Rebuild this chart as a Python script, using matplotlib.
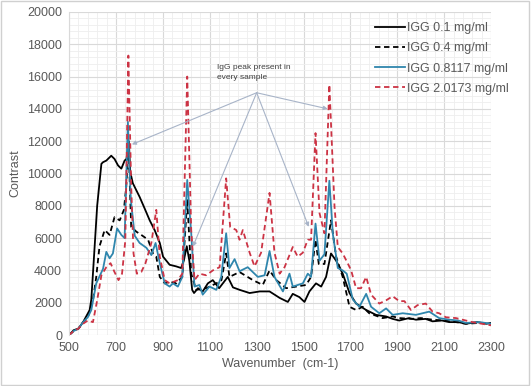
import matplotlib.pyplot as plt
from matplotlib.ticker import MultipleLocator

plt.rcParams['font.family'] = ['Liberation Sans', 'DejaVu Sans']

# IGG 0.1 mg/ml
x_01 = [500, 520, 540, 560, 588, 595, 605, 620, 638, 645, 659, 680, 694, 709, 723, 737, 745, 755, 761,
        772, 801, 822, 844, 865, 887, 901, 929, 957, 978, 990, 1002, 1013, 1025, 1033, 1050, 1070, 1092,
        1113, 1140, 1177, 1199, 1227, 1270, 1313, 1355, 1398, 1433, 1454, 1482, 1504, 1525, 1553, 1575,
        1596, 1617, 1639, 1667, 1696, 1724, 1767, 1809, 1852, 1880, 1908, 1950, 1979, 2020, 2050, 2090,
        2121, 2160, 2192, 2240, 2280, 2300]
y_01 = [0, 300, 400, 800, 1550, 2200, 4500, 8000, 10600, 10700, 10800, 11100, 10900, 10500, 10300, 10800,
        10900, 12000, 10100, 9400, 8550, 7850, 7100, 6500, 5700, 4850, 4350, 4250, 4150, 4650, 5500, 4600,
        2800, 2600, 2900, 2700, 3200, 3400, 2900, 3600, 2950, 2800, 2600, 2700, 2700, 2300, 2050, 2550,
        2350, 2050, 2700, 3200, 3000, 3600, 5050, 4600, 3800, 2600, 1950, 1550, 1250, 1150, 1000, 900,
        1050, 950, 1000, 850, 900, 800, 800, 700, 800, 700, 750]

# IGG 0.4 mg/ml
x_04 = [500, 520, 540, 560, 580, 602, 616, 630, 652, 673, 694, 716, 734, 744, 754, 765, 787, 808, 837, 858,
        872, 887, 908, 929, 957, 983, 1004, 1021, 1042, 1085, 1128, 1150, 1170, 1184, 1227, 1284, 1326,
        1355, 1384, 1426, 1468, 1511, 1532, 1551, 1565, 1589, 1617, 1639, 1667, 1696, 1724, 1752, 1780,
        1837, 1880, 1908, 1960, 2000, 2050, 2100, 2150, 2192, 2250, 2300]
y_04 = [0, 250, 400, 800, 1100, 2150, 3600, 5500, 6500, 6200, 7300, 7100, 7750, 9200, 11700, 6700, 6400,
        6200, 5900, 5050, 4850, 3600, 3200, 3300, 3200, 3600, 8350, 3800, 2800, 2900, 3200, 3400, 5050,
        3600, 3900, 3400, 3100, 4000, 3400, 2900, 3000, 3100, 3600, 5900, 4400, 4400, 7100, 4850, 3600,
        1750, 1550, 1750, 1350, 1050, 1150, 1050, 1000, 1050, 950, 900, 800, 700, 750, 700]

# IGG 0.8117 mg/ml
x_08 = [500, 520, 540, 560, 580, 595, 616, 645, 659, 673, 687, 705, 723, 737, 751, 763, 780, 801, 830, 851,
        869, 887, 908, 929, 943, 964, 983, 1004, 1021, 1035, 1056, 1070, 1099, 1128, 1149, 1170, 1184,
        1206, 1227, 1262, 1305, 1334, 1355, 1376, 1412, 1440, 1454, 1497, 1518, 1532, 1551, 1568, 1589,
        1610, 1625, 1646, 1667, 1684, 1710, 1738, 1767, 1788, 1823, 1852, 1880, 1923, 1979, 2036, 2078,
        2121, 2160, 2192, 2250, 2300]
y_08 = [0, 250, 400, 800, 1100, 1550, 3200, 4100, 5150, 4750, 5050, 6600, 6200, 6000, 13200, 8450, 6150,
        5700, 5400, 4950, 5700, 4450, 3200, 3000, 3200, 3000, 3600, 9600, 6300, 3000, 3100, 2500, 3000,
        2800, 3600, 6300, 4150, 4700, 3950, 4200, 3600, 3700, 5200, 3600, 2700, 3800, 3000, 3200, 3800,
        3600, 6900, 4600, 5000, 9550, 6250, 4150, 4000, 3800, 2200, 1750, 2550, 1750, 1350, 1650, 1250,
        1350, 1250, 1450, 1050, 950, 900, 750, 800, 700]

# IGG 2.0173 mg/ml
x_20 = [500, 520, 540, 560, 580, 602, 620, 638, 659, 677, 694, 711, 726, 740, 753, 765, 775, 789, 808, 826,
        851, 872, 887, 908, 929, 964, 983, 1004, 1021, 1035, 1056, 1085, 1113, 1142, 1170, 1187, 1213,
        1227, 1241, 1270, 1291, 1319, 1355, 1376, 1398, 1419, 1454, 1475, 1497, 1518, 1532, 1551, 1568,
        1589, 1610, 1632, 1646, 1667, 1688, 1703, 1724, 1745, 1767, 1788, 1823, 1852, 1880, 1908, 1930,
        1958, 1986, 2021, 2050, 2078, 2107, 2150, 2220, 2300]
y_20 = [0, 250, 400, 700, 900, 800, 2150, 3700, 4200, 4450, 3900, 3400, 3800, 5850, 17300, 9250, 5050,
        3800, 3900, 4450, 5700, 7750, 4850, 3400, 3200, 3400, 3800, 16000, 6500, 3400, 3800, 3700, 4000,
        4200, 9700, 6700, 6500, 5900, 6500, 5100, 4250, 5100, 8800, 5100, 3800, 4200, 5450, 4850, 5100,
        5900, 5900, 12500, 7550, 6300, 15500, 7950, 5450, 5050, 4450, 4000, 2900, 2900, 3600, 2500, 1950,
        2150, 2400, 2100, 2100, 1550, 1850, 1950, 1450, 1350, 1100, 1050, 800, 600]

labels = ["IGG 0.1 mg/ml", "IGG 0.4 mg/ml", "IGG 0.8117 mg/ml", "IGG 2.0173 mg/ml"]
x_ticks = list(range(500, 2301, 200))
note_text = "IgG peak present in\nevery sample"
note_src = (1300, 15000)
note_tips = [(768, 11800), (1028, 5470), (1522, 6700), (1603, 14000)]

grey = "#595959"

fig = plt.figure(figsize=(5.31, 3.86), dpi=100)
fig.patches.append(plt.Rectangle((0.002, 0.003), 0.995, 0.994, transform=fig.transFigure,
                                 fill=False, edgecolor="#d0d0d0", linewidth=1))
ax = fig.add_axes([0.13, 0.132, 0.795, 0.837])

ax.plot(x_01, y_01, color="black", lw=1.3, label=labels[0])
ax.plot(x_04, y_04, color="black", lw=1.3, ls=(0, (3, 2)), label=labels[1])
ax.plot(x_08, y_08, color="#2f86ad", lw=1.3, label=labels[2])
ax.plot(x_20, y_20, color="#cc3344", lw=1.3, ls=(0, (3, 2)), label=labels[3])

ax.set_xlim(500, 2300)
ax.set_ylim(0, 20000)
ax.set_xticks(x_ticks)
ax.set_xticks(range(500, 2301, 40), minor=True)
ax.yaxis.set_major_locator(MultipleLocator(2000))
ax.yaxis.set_minor_locator(MultipleLocator(400))
ax.grid(True, which="major", color="#d9d9d9", lw=0.8)
ax.grid(True, which="minor", color="#eeeeee", lw=0.6)
ax.set_axisbelow(True)
for side in ["top", "right", "bottom"]:
    ax.spines[side].set_visible(False)
ax.spines["left"].set_color("#d9d9d9")
ax.tick_params(which="both", length=0, labelsize=9, labelcolor=grey, pad=5)

ax.set_xlabel("Wavenumber  (cm-1)", fontsize=9, color=grey, labelpad=3)
ax.set_ylabel("Contrast", fontsize=9, color=grey, labelpad=4)

ax.text(1130, 15750, note_text, fontsize=6, color="#404040", va="bottom", linespacing=1.5)
for tip in note_tips:
    ax.annotate("", xy=tip, xytext=note_src,
                arrowprops=dict(arrowstyle="-|>", color="#a8b4c8", lw=0.8, mutation_scale=6,
                                shrinkA=0, shrinkB=0))

ax.legend(loc="upper left", bbox_to_anchor=(0.725, 0.968), frameon=False, fontsize=9,
          labelcolor=grey, handlelength=2.4, handletextpad=0.15, labelspacing=0.65,
          borderaxespad=0, borderpad=0)

plt.savefig("out.png", dpi=100)
